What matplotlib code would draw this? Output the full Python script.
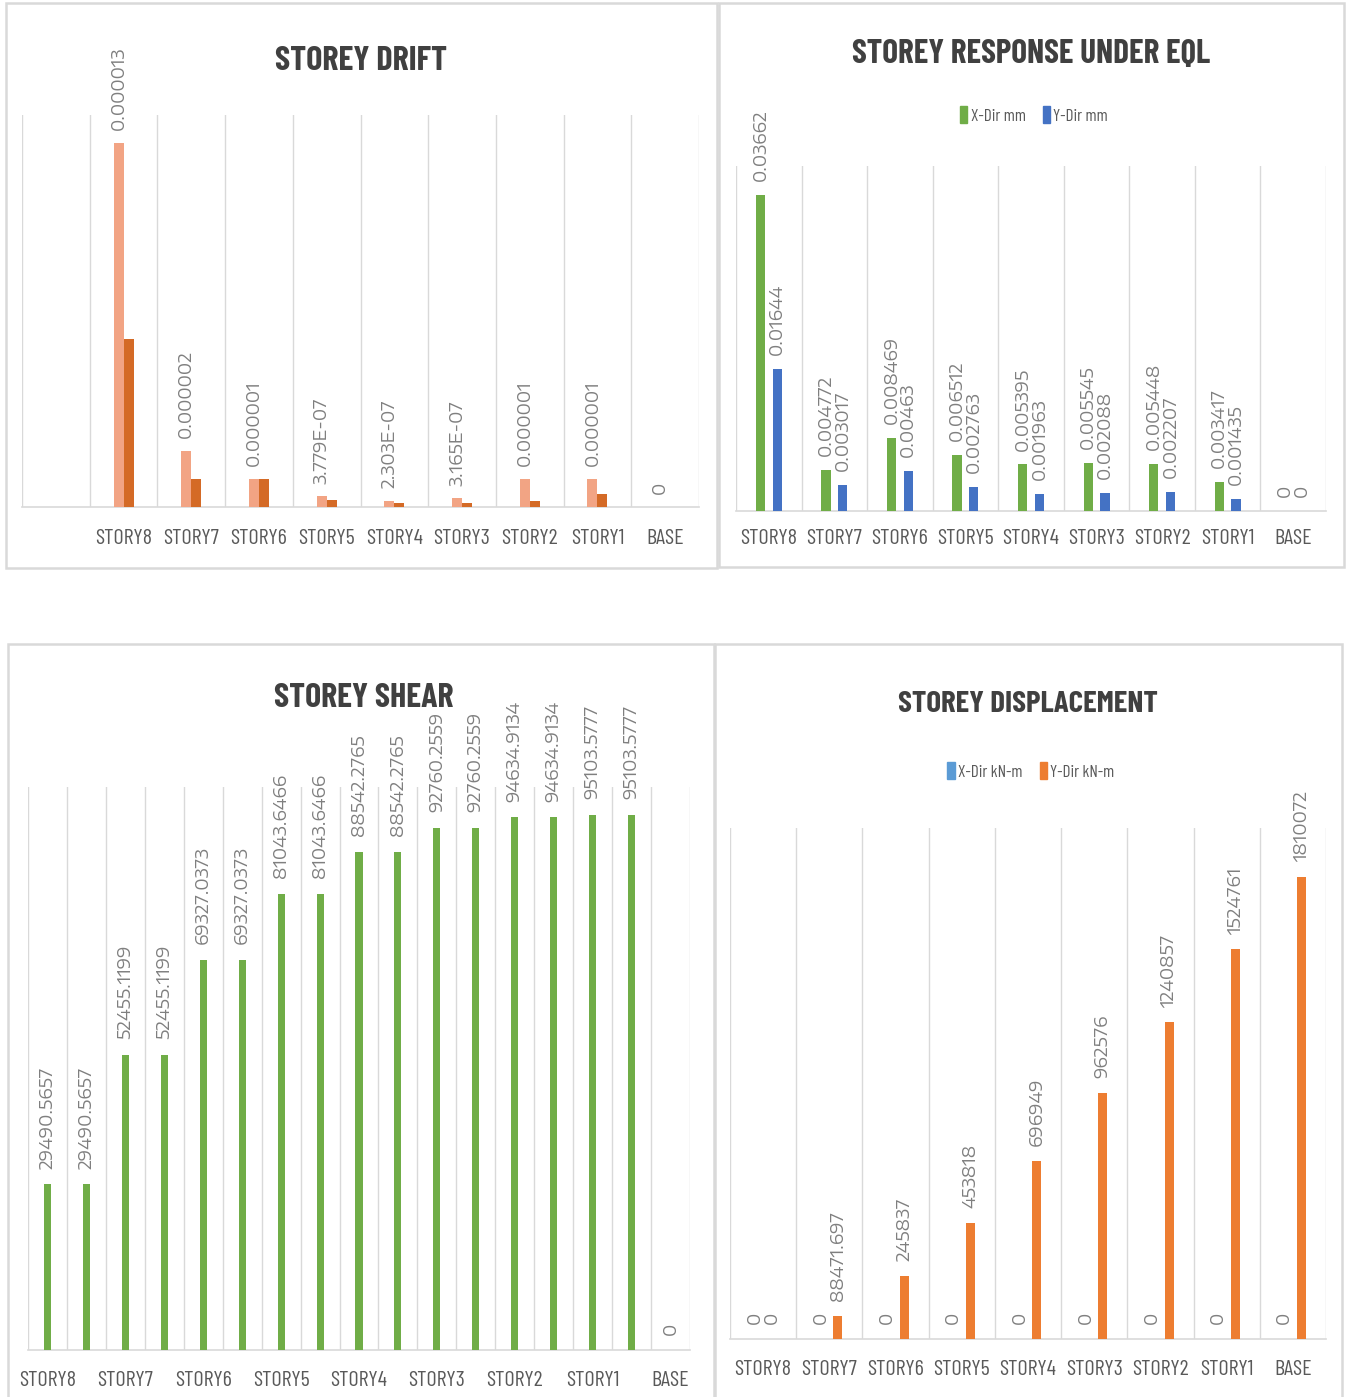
import numpy as np
import matplotlib
matplotlib.use("Agg")
import matplotlib.pyplot as plt
from matplotlib import font_manager as fm
from matplotlib.font_manager import FontProperties
from matplotlib.patches import Rectangle, Patch

# ---------------- data ----------------
drift_categories = ["", "STORY8", "STORY7", "STORY6", "STORY5", "STORY4",
                    "STORY3", "STORY2", "STORY1", "BASE"]
drift_series_a = [np.nan, 0.000013, 0.000002, 0.000001, 3.779e-07, 2.303e-07,
                  3.165e-07, 0.000001, 0.000001, 0]
drift_series_b = [np.nan, 0.000006, 0.000001, 0.000001, 2.5e-07, 1.5e-07,
                  1.5e-07, 2.2e-07, 4.7e-07, 0]

eql_categories = ["STORY8", "STORY7", "STORY6", "STORY5", "STORY4",
                  "STORY3", "STORY2", "STORY1", "BASE"]
eql_x_mm = [0.03662, 0.004772, 0.008469, 0.006512, 0.005395,
            0.005545, 0.005448, 0.003417, 0]
eql_y_mm = [0.01644, 0.003017, 0.00463, 0.002763, 0.001963,
            0.002088, 0.002207, 0.001435, 0]
eql_series_names = ["X-Dir mm", "Y-Dir mm"]

shear_categories = ["STORY8", "STORY8", "STORY7", "STORY7", "STORY6", "STORY6",
                    "STORY5", "STORY5", "STORY4", "STORY4", "STORY3", "STORY3",
                    "STORY2", "STORY2", "STORY1", "STORY1", "BASE"]
shear_values = [29490.5657, 29490.5657, 52455.1199, 52455.1199,
                69327.0373, 69327.0373, 81043.6466, 81043.6466,
                88542.2765, 88542.2765, 92760.2559, 92760.2559,
                94634.9134, 94634.9134, 95103.5777, 95103.5777, 0]

disp_categories = ["STORY8", "STORY7", "STORY6", "STORY5", "STORY4",
                   "STORY3", "STORY2", "STORY1", "BASE"]
disp_x_knm = [0, 0, 0, 0, 0, 0, 0, 0, 0]
disp_y_knm = [0, 88471.697, 245837, 453818, 696949, 962576,
              1240857, 1524761, 1810072]
disp_series_names = ["X-Dir kN-m", "Y-Dir kN-m"]

titles = ["STOREY DRIFT", "STOREY RESPONSE UNDER EQL",
          "STOREY SHEAR", "STOREY DISPLACEMENT"]

# ---------------- fonts ----------------
names = {f.name for f in fm.fontManager.ttflist}


def pick(cands, default="DejaVu Sans"):
    for c in cands:
        if c in names:
            return c
    return default


COND = pick(["Barlow Condensed", "Fira Sans Extra Condensed", "Roboto Condensed",
             "Archivo Narrow", "PT Sans Narrow"])
WIDE = pick(["Encode Sans Expanded", "Lexend Exa", "DejaVu Sans"])

GRID = "#d9d9d9"
TXT = "#595959"
LBL = "#7f7f7f"
TITLE_C = "#404040"

W, H = 1347, 1397
fig = plt.figure(figsize=(W / 100, H / 100), dpi=100)
fig.patch.set_facecolor("white")
renderer = fig.canvas.get_renderer()


def fit_size(s, family, weight, target_px):
    fp = FontProperties(family=family, weight=weight, size=20)
    w, h, d = renderer.get_text_width_height_descent(s, fp, ismath=False)
    return 20 * target_px / w


LABEL_SIZE = fit_size("0.000013", WIDE, "normal", 84)
CAT_SIZE = fit_size("STORY8", COND, "normal", 57)
LEG_SIZE = fit_size("X-Dir mm", COND, "normal", 55)


def fx(x):
    return x / W


def fy(y):
    return 1 - y / H


def add_ax(x0, y0, x1, y1):
    return fig.add_axes([fx(x0), fy(y1), (x1 - x0) / W, (y1 - y0) / H])


def style(ax, n, ymax, pad):
    ax.set_xlim(-0.5, n - 0.5)
    ax.set_ylim(0, ymax)
    for s in ["top", "right", "left"]:
        ax.spines[s].set_visible(False)
    ax.spines["bottom"].set_color(GRID)
    ax.spines["bottom"].set_linewidth(1.2)
    ax.set_yticks([])
    ax.set_xticks(np.arange(-0.5, n, 1), minor=True)
    ax.grid(which="minor", axis="x", color=GRID, lw=1)
    ax.tick_params(which="both", length=0, pad=pad)
    ax.set_facecolor("none")
    ax.set_axisbelow(True)


def fmt(v):
    if v == 0:
        return "0"
    if float(v).is_integer():
        return str(int(v))
    return repr(float(v))


def fmt_drift(v):
    if v == 0:
        return "0"
    if abs(v) < 1e-6:
        return f"{v:.3E}"
    return f"{v:.6f}".rstrip("0")


def add_labels(ax, xs, vals, texts, off):
    for x, v, t in zip(xs, vals, texts):
        if v is None or (isinstance(v, float) and np.isnan(v)):
            continue
        ax.annotate(t, (x, v), xytext=(0, off), textcoords="offset points",
                    rotation=90, ha="center", va="bottom", fontsize=LABEL_SIZE,
                    color=LBL, family=WIDE, annotation_clip=False)


def set_cats(ax, positions, labels):
    ax.set_xticks(positions)
    ax.set_xticklabels(labels, family=COND, fontsize=CAT_SIZE, color=TXT)


def add_legend(handles, labels, cx, cy):
    fig.legend(handles, labels, loc="center", bbox_to_anchor=(fx(cx), fy(cy)),
               ncol=2, frameon=False, handlelength=0.42, handleheight=1.1,
               handletextpad=0.2, columnspacing=1.0,
               prop={"family": COND, "size": LEG_SIZE}, labelcolor=TXT)


# panel frames
for (x0, y0, x1, y1) in [(6, 3, 717, 568), (719, 3, 1344, 567),
                         (8, 644, 714, 1420), (715, 644, 1342, 1420)]:
    fig.add_artist(Rectangle((fx(x0), fy(y1)), (x1 - x0) / W, (y1 - y0) / H,
                             transform=fig.transFigure, facecolor="none",
                             edgecolor=GRID, lw=1.8, zorder=0))

# ---------------- panel 1: drift ----------------
ax1 = add_ax(22, 115, 699, 507)
n1 = len(drift_categories)
style(ax1, n1, 1.4e-5, 16)
x1 = np.arange(n1)
w1 = 0.148
ax1.bar(x1 - w1 / 2, drift_series_a, w1, color="#F2A484", zorder=3)
ax1.bar(x1 + w1 / 2, drift_series_b, w1, color="#D46A26", zorder=3)
add_labels(ax1, x1 - w1 / 2, drift_series_a,
           [fmt_drift(v) if not np.isnan(v) else "" for v in drift_series_a], 9)
set_cats(ax1, x1, drift_categories)

# ---------------- panel 2: EQL response ----------------
ax2 = add_ax(736, 166, 1326, 511)
n2 = len(eql_categories)
style(ax2, n2, 0.04, 13)
x2 = np.arange(n2)
w2 = 0.14
off2 = 0.128
ax2.bar(x2 - off2, eql_x_mm, w2, color="#70AD47", zorder=3)
ax2.bar(x2 + off2, eql_y_mm, w2, color="#4472C4", zorder=3)
add_labels(ax2, x2 - off2, eql_x_mm, [fmt(v) for v in eql_x_mm], 10)
add_labels(ax2, x2 + off2, eql_y_mm, [fmt(v) for v in eql_y_mm], 10)
set_cats(ax2, x2, eql_categories)
add_legend([Patch(color="#70AD47"), Patch(color="#4472C4")], eql_series_names,
           1034, 115)

# ---------------- panel 3: shear ----------------
ax3 = add_ax(28, 787, 690, 1350)
n3 = len(shear_categories)
style(ax3, n3, 100000, 15)
x3 = np.arange(n3)
ax3.bar(x3, shear_values, 0.18, color="#70AD47", zorder=3)
add_labels(ax3, x3, shear_values, [fmt(v) for v in shear_values], 11)
set_cats(ax3, x3[::2], shear_categories[::2])

# ---------------- panel 4: displacement ----------------
ax4 = add_ax(730, 828, 1326, 1339)
n4 = len(disp_categories)
style(ax4, n4, 2000000, 15)
x4 = np.arange(n4)
w4 = 0.136
off4 = 0.13
ax4.bar(x4 - off4, disp_x_knm, w4, color="#5B9BD5", zorder=3)
ax4.bar(x4 + off4, disp_y_knm, w4, color="#ED7D31", zorder=3)
add_labels(ax4, x4 - off4, disp_x_knm, [fmt(v) for v in disp_x_knm], 11)
add_labels(ax4, x4 + off4, disp_y_knm, [fmt(v) for v in disp_y_knm], 11)
set_cats(ax4, x4, disp_categories)
add_legend([Patch(color="#5B9BD5"), Patch(color="#ED7D31")], disp_series_names,
           1031, 771)

# ---------------- titles ----------------
title_geom = [(361, 70, 172), (1031, 63, 359), (364, 707, 180), (1028, 712, 260)]
for t, (cx, by, tw) in zip(titles, title_geom):
    fs = fit_size(t, COND, "bold", tw)
    fig.text(fx(cx), fy(by), t, ha="center", va="baseline", family=COND,
             weight="bold", fontsize=fs, color=TITLE_C, zorder=5)

fig.savefig("out.png", dpi=100, facecolor="white")
